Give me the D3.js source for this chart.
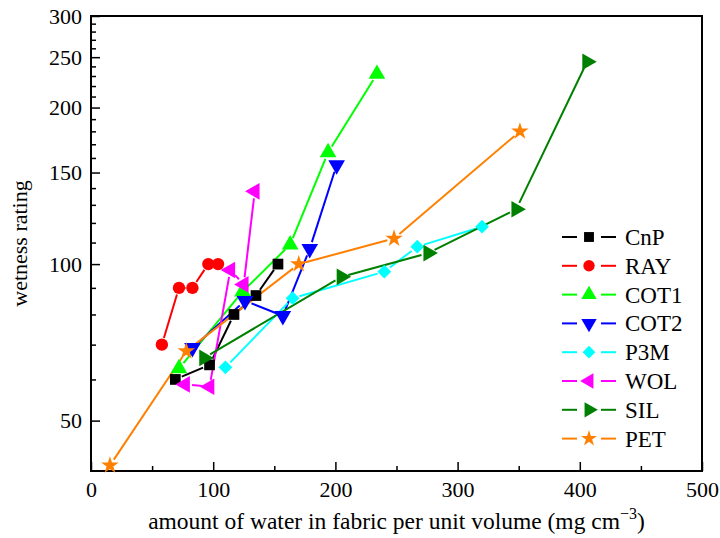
<!DOCTYPE html>
<html>
<head>
<meta charset="utf-8">
<script src="https://cdn.jsdelivr.net/npm/d3@7"></script>
<style>
  body { margin: 0; background: #fff; }
  text { font-family: "Liberation Serif", "Times New Roman", serif; fill: #000; }
</style>
</head>
<body>
<div id="chart"></div>
<script>
// fabric names, in legend order
const fabrics = ["CnP", "RAY", "COT1", "COT2", "P3M", "WOL", "SIL", "PET"];

// water content (mg cm-3) and wetness rating per fabric
const cnpWater  = [69, 97, 117, 135, 153];
const cnpRating = [60, 64, 80, 87, 100];
const rayWater  = [58, 72, 83, 96, 104];
const rayRating = [70, 90, 90, 100, 100];
const cot1Water  = [72, 124, 163, 194, 234];
const cot1Rating = [63, 88.5, 109, 164, 232];
const cot2Water  = [83, 126, 157, 179, 201];
const cot2Rating = [69, 85, 79.5, 107, 155];
const p3mWater  = [110, 165, 240, 267, 320];
const p3mRating = [63.3, 86, 96.7, 108, 118];
const wolWater  = [77, 97, 114, 125, 134];
const wolRating = [58.7, 58.1, 97.4, 91.4, 138];
const silWater  = [92.5, 205, 276, 348, 406];
const silRating = [66, 94.5, 105, 127.5, 245];
const petWater  = [15.5, 78, 170, 248, 351];
const petRating = [41, 68, 100, 112, 180];

const xTicks = [0, 100, 200, 300, 400, 500];
const xMinor = [50, 150, 250, 350, 450];
const yTicks = [50, 100, 150, 200, 250, 300];
const yMinor = [60, 70, 80, 90, 110, 120, 130, 140, 160, 170, 180, 190, 210, 220, 230, 240, 260, 270, 280, 290];

const colors = ["#000000", "#ff0000", "#00ff00", "#0000ff", "#00ffff", "#ff00ff", "#008000", "#ff8000"];

const waters = [cnpWater, rayWater, cot1Water, cot2Water, p3mWater, wolWater, silWater, petWater];
const ratings = [cnpRating, rayRating, cot1Rating, cot2Rating, p3mRating, wolRating, silRating, petRating];

const series = fabrics.map((name, i) => ({
  name: name,
  color: colors[i],
  points: waters[i].map((w, j) => ({ x: w, y: ratings[i][j] }))
}));

// marker for each series: symbol type, size, rotation
const markers = [
  { type: d3.symbolSquare, size: 115, rot: 0 },
  { type: d3.symbolCircle, size: 120, rot: 0 },
  { type: d3.symbolTriangle, size: 120, rot: 0 },
  { type: d3.symbolTriangle, size: 120, rot: 180 },
  { type: d3.symbolSquare, size: 95, rot: 45 },
  { type: d3.symbolTriangle, size: 120, rot: -90 },
  { type: d3.symbolTriangle, size: 120, rot: 90 },
  { type: d3.symbolStar, size: 95, rot: 0 }
];

const width = 720, height = 538;
const margin = { top: 16, right: 18, bottom: 67, left: 91 };

const svg = d3.select("#chart").append("svg")
    .attr("width", width)
    .attr("height", height);

const x = d3.scaleLinear()
    .domain([0, 500])
    .range([margin.left, width - margin.right]);

const y = d3.scaleLog()
    .domain([40, 300])
    .range([height - margin.bottom, margin.top]);

const plotBottom = height - margin.bottom;

// minor ticks
svg.append("g")
    .attr("transform", `translate(0,${plotBottom})`)
    .call(d3.axisBottom(x).tickValues(xMinor).tickSize(-5).tickFormat(""))
    .call(g => g.select(".domain").remove())
    .call(g => g.selectAll("line").attr("stroke-width", 1.5));

svg.append("g")
    .attr("transform", `translate(${margin.left},0)`)
    .call(d3.axisLeft(y).tickValues(yMinor).tickSize(-5).tickFormat(""))
    .call(g => g.select(".domain").remove())
    .call(g => g.selectAll("line").attr("stroke-width", 1.5));

// major ticks + labels
svg.append("g")
    .attr("transform", `translate(0,${plotBottom})`)
    .call(d3.axisBottom(x).tickValues(xTicks).tickSize(-9).tickPadding(10).tickFormat(d3.format("d")))
    .call(g => g.select(".domain").remove())
    .call(g => g.selectAll("line").attr("stroke-width", 1.5))
    .call(g => g.selectAll("text").attr("font-size", 22));

svg.append("g")
    .attr("transform", `translate(${margin.left},0)`)
    .call(d3.axisLeft(y).tickValues(yTicks).tickSize(-9).tickPadding(9).tickFormat(d3.format("d")))
    .call(g => g.select(".domain").remove())
    .call(g => g.selectAll("line").attr("stroke-width", 1.5))
    .call(g => g.selectAll("text").attr("font-size", 22));

// frame
svg.append("rect")
    .attr("x", margin.left)
    .attr("y", margin.top)
    .attr("width", width - margin.right - margin.left)
    .attr("height", plotBottom - margin.top)
    .attr("fill", "none")
    .attr("stroke", "#000")
    .attr("stroke-width", 2);

// axis titles
const xt = svg.append("text")
    .attr("x", (margin.left + width - margin.right) / 2)
    .attr("y", 529)
    .attr("text-anchor", "middle")
    .attr("font-size", 23.5)
    .text("amount of water in fabric per unit volume (mg cm");
xt.append("tspan").attr("font-size", 16).attr("dy", -10).text("\u22123");
xt.append("tspan").attr("dy", 10).text(")");

svg.append("text")
    .attr("transform", `translate(27,${(margin.top + plotBottom) / 2}) rotate(-90)`)
    .attr("text-anchor", "middle")
    .attr("font-size", 22)
    .text("wetness rating");

// lines: segments trimmed near markers
const gap = 7;
series.forEach(s => {
  const pts = s.points.map(p => [x(p.x), y(p.y)]);
  const segs = d3.pairs(pts).map(([a, b]) => {
    const dx = b[0] - a[0], dy = b[1] - a[1];
    const len = Math.hypot(dx, dy);
    const ux = dx / len, uy = dy / len;
    return [[a[0] + ux * gap, a[1] + uy * gap], [b[0] - ux * gap, b[1] - uy * gap]];
  });

  svg.append("g").selectAll("line")
    .data(segs)
    .join("line")
    .attr("x1", d => d[0][0]).attr("y1", d => d[0][1])
    .attr("x2", d => d[1][0]).attr("y2", d => d[1][1])
    .attr("stroke", s.color)
    .attr("stroke-width", 2);
});

series.forEach((s, i) => {
  const m = markers[i];
  svg.append("g").selectAll("path")
    .data(s.points)
    .join("path")
    .attr("d", d3.symbol().type(m.type).size(m.size))
    .attr("transform", d => `translate(${x(d.x)},${y(d.y)}) rotate(${m.rot})`)
    .attr("fill", s.color);
});

// legend
const legend = svg.append("g").attr("transform", "translate(562,237)");
series.forEach((s, i) => {
  const m = markers[i];
  const g = legend.append("g").attr("transform", `translate(0,${i * 28.8})`);
  g.append("line").attr("x1", 0).attr("x2", 15).attr("stroke", s.color).attr("stroke-width", 2);
  g.append("line").attr("x1", 39).attr("x2", 54).attr("stroke", s.color).attr("stroke-width", 2);
  g.append("path")
    .attr("d", d3.symbol().type(m.type).size(m.size * 0.85))
    .attr("transform", `translate(27,0) rotate(${m.rot})`)
    .attr("fill", s.color);
  g.append("text")
    .attr("x", 63)
    .attr("y", 8)
    .attr("font-size", 23)
    .text(s.name);
});
</script>
</body>
</html>
